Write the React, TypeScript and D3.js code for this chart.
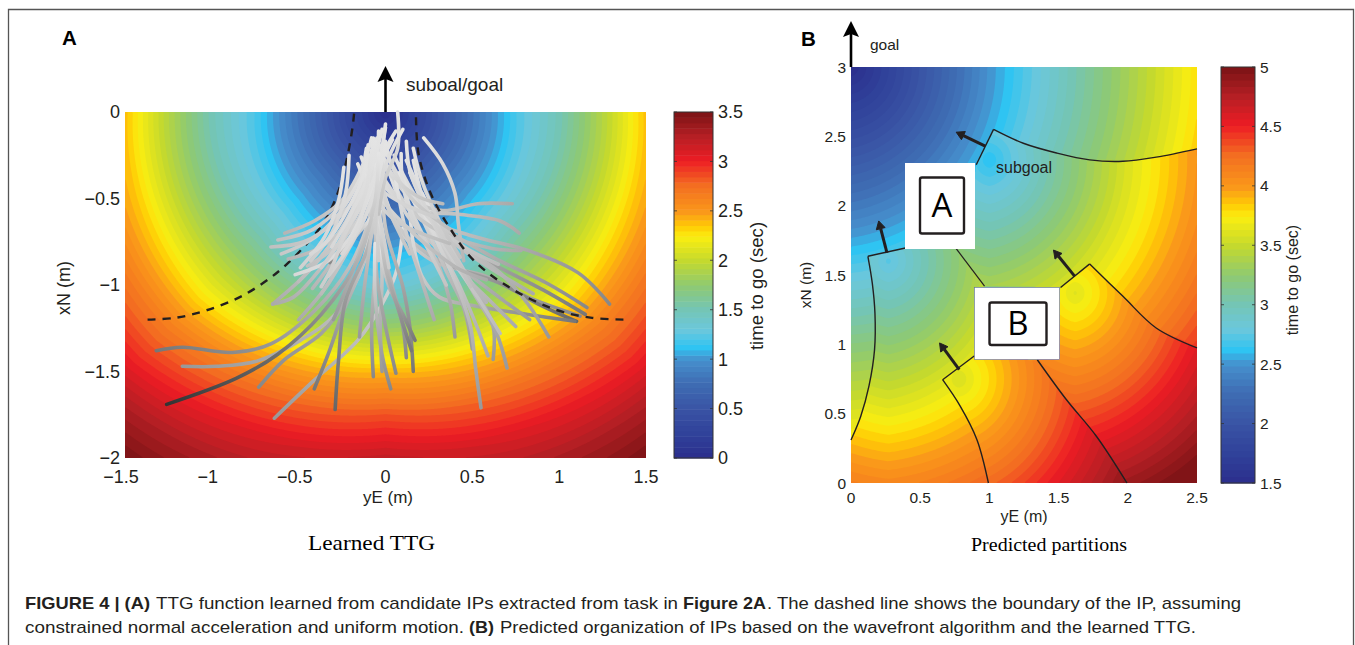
import React, { useMemo } from 'react'
import * as d3 from 'd3'

// Colormap (fraction of the range -> colour)
const colorStops = [0, 0.06, 0.14, 0.22, 0.285, 0.32, 0.37, 0.43, 0.5, 0.57, 0.64, 0.67, 0.71, 0.79, 0.86, 0.93, 1]
const colorValues = ['#2b2e8c', '#2f3f98', '#3953a4', '#3f6eb4', '#4690cd', '#2fc4f2', '#6bc7dc', '#74c5b5', '#8fca70', '#c4d92e', '#fbee10', '#ffcb05', '#fa9a1a', '#f36c21', '#ed1c24', '#b51f24', '#7a1315']
const bandCount = 64

// Panel A: learned TTG (sec), read along three directions from the goal
const ttgRadii = [0, 0.25, 0.5, 0.75, 1, 1.25, 1.5, 1.75, 2, 2.25, 2.5, 2.75]
const ttgDown = [0, 0.35, 0.68, 0.98, 1.3, 1.8, 2.4, 2.85, 3.2, 3.4, 3.5, 3.5]
const ttgDiag = [0, 0.4, 0.8, 1.15, 1.5, 1.88, 2.27, 2.65, 2.95, 3.25, 3.5, 3.6]
const ttgSide = [0, 0.41, 0.81, 1.2, 1.5, 1.92, 2.38, 2.7, 3.0, 3.3, 3.55, 3.6]

const axAXTicks = [-1.5, -1, -0.5, 0, 0.5, 1, 1.5]
const axAYTicks = [0, -0.5, -1, -1.5, -2]
const cbATicks = [0, 0.5, 1, 1.5, 2, 2.5, 3, 3.5]
const axBXTicks = [0, 0.5, 1, 1.5, 2, 2.5]
const axBYTicks = [0, 0.5, 1, 1.5, 2, 2.5, 3]
const cbBTicks = [1.5, 2, 2.5, 3, 3.5, 4, 4.5, 5]

// Dashed IP boundary (yE, xN)
const boundaryLeft: [number, number][] = [[-1.37, -1.2], [-1.21, -1.19], [-1.03, -1.146], [-0.82, -1.06], [-0.62, -0.925], [-0.47, -0.78], [-0.35, -0.63], [-0.27, -0.455], [-0.22, -0.26], [-0.19, -0.09], [-0.18, 0]]
const boundaryRight: [number, number][] = [[1.37, -1.2], [1.19, -1.19], [0.99, -1.146], [0.74, -1.03], [0.51, -0.86], [0.37, -0.67], [0.26, -0.47], [0.19, -0.24], [0.175, 0]]

// Candidate IP trajectories, far end first (yE, xN)
const trajectories: [number, number][][] = [
  [[-1.32, -1.38], [-1.17, -1.36], [-0.88, -1.39], [-0.66, -1.34], [-0.41, -1.15], [-0.21, -0.9], [-0.08, -0.57], [-0.02, -0.19]],
  [[-1.17, -1.47], [-0.97, -1.47], [-0.74, -1.44], [-0.49, -1.32], [-0.29, -1.17], [-0.12, -0.86], [-0.06, -0.47], [-0.05, -0.15]],
  [[-0.73, -1.59], [-0.58, -1.43], [-0.37, -1.28], [-0.23, -1.09], [-0.1, -0.78], [-0.05, -0.38], [-0.04, -0.11]],
  [[-0.64, -1.77], [-0.41, -1.55], [-0.16, -1.32], [-0.02, -1.11], [0.06, -0.93], [0.1, -0.67]],
  [[-0.41, -1.6], [-0.33, -1.4], [-0.25, -1.17], [-0.14, -0.9], [-0.06, -0.57]],
  [[-0.29, -1.72], [-0.27, -1.43], [-0.23, -1.09], [-0.1, -0.78], [-0.04, -0.47], [-0.02, -0.19]],
  [[-0.07, -1.53], [-0.08, -1.24], [-0.06, -0.93], [-0.03, -0.57]],
  [[-0.02, -1.5], [-0.03, -1.24], [-0.02, -0.95], [-0.04, -0.57]],
  [[0.06, -1.51], [0, -1.24], [-0.05, -0.95], [-0.06, -0.67], [-0.08, -0.28]],
  [[0.03, -1.6], [-0.02, -1.4], [-0.06, -1.05], [-0.06, -0.76]],
  [[0.12, -1.42], [0.1, -1.24], [0.04, -1.01], [-0.02, -0.76], [-0.06, -0.47]],
  [[0.16, -1.5], [0.14, -1.24], [0.1, -1.01], [0, -0.67], [-0.02, -0.32]],
  [[0.17, -1.32], [0.1, -1.17], [0.02, -1.01], [-0.04, -0.78]],
  [[0.15, -1.38], [0.07, -1.13], [0, -0.9], [-0.04, -0.57]],
  [[1.29, -1.11], [1.11, -0.93], [0.82, -0.8], [0.51, -0.72], [0.21, -0.61], [0, -0.42], [-0.08, -0.28]],
  [[1.16, -1.13], [0.93, -0.99], [0.62, -0.84], [0.31, -0.65], [0.12, -0.44], [-0.02, -0.19]],
  [[1.15, -1.17], [0.91, -1.03], [0.62, -0.88], [0.33, -0.72], [0.1, -0.51], [-0.02, -0.24]],
  [[1.12, -1.18], [0.82, -1.07], [0.58, -0.95], [0.27, -0.86], [0.06, -0.65], [-0.04, -0.34]],
  [[1.1, -1.21], [0.88, -1.11], [0.66, -0.99], [0.31, -0.86], [0.08, -0.67], [-0.04, -0.38]],
  [[1.09, -1.21], [0.82, -1.17], [0.51, -1.12], [0.31, -1.07], [0.21, -0.95], [0.16, -0.76], [0.14, -0.57]],
  [[0.83, -1.2], [0.68, -1.09], [0.47, -0.93], [0.29, -0.78], [0.12, -0.59], [0.02, -0.34]],
  [[0.75, -1.24], [0.6, -1.09], [0.41, -0.9], [0.25, -0.67], [0.1, -0.4]],
  [[0.94, -1.3], [0.82, -1.11], [0.66, -0.93], [0.45, -0.78], [0.29, -0.61], [0.12, -0.28]],
  [[0.4, -1.3], [0.37, -1.09], [0.31, -0.9], [0.21, -0.7], [0.12, -0.51]],
  [[0.5, -1.37], [0.45, -1.13], [0.35, -0.92], [0.25, -0.7], [0.14, -0.47]],
  [[0.59, -1.41], [0.51, -1.2], [0.41, -0.97], [0.31, -0.78], [0.16, -0.47]],
  [[0.62, -1.43], [0.62, -1.24], [0.53, -1.05], [0.41, -0.84], [0.25, -0.53]],
  [[0.7, -1.48], [0.64, -1.28], [0.51, -1.05], [0.37, -0.8], [0.21, -0.47]],
  [[0.66, -1.28], [0.53, -1.07], [0.39, -0.86], [0.25, -0.61], [0.16, -0.28]],
  [[0.55, -1.71], [0.52, -1.49], [0.49, -1.24], [0.43, -1.05], [0.33, -0.82], [0.21, -0.55]],
  [[0.73, -0.53], [0.53, -0.53], [0.33, -0.57], [0.16, -0.51], [0, -0.32], [-0.08, -0.17]],
  [[0.77, -0.7], [0.66, -0.63], [0.41, -0.59], [0.19, -0.57], [0, -0.44], [-0.1, -0.28]],
  [[0.78, -0.8], [0.62, -0.79], [0.31, -0.69], [0.12, -0.55], [-0.02, -0.36], [-0.06, -0.19]],
  [[-0.65, -1.11], [-0.53, -1.07], [-0.37, -0.9], [-0.21, -0.67], [-0.08, -0.42]],
  [[-0.65, -1.11], [-0.47, -0.95], [-0.29, -0.73], [-0.12, -0.47]],
  [[-0.5, -1.2], [-0.32, -0.98], [-0.18, -0.7], [-0.08, -0.35]],
  [[-0.3, -1.2], [-0.2, -0.95], [-0.1, -0.65], [-0.05, -0.3]],
  [[-0.15, -1.3], [-0.12, -1.0], [-0.08, -0.7], [-0.04, -0.35]],
  [[0.28, -1.2], [0.2, -0.95], [0.12, -0.7], [0.06, -0.4]],
  [[0.85, -1.05], [0.6, -0.9], [0.35, -0.72], [0.15, -0.45], [0.05, -0.25]],
  [[0.58, -1.1], [0.42, -0.88], [0.26, -0.62], [0.14, -0.35]],
  [[0.65, -0.88], [0.42, -0.76], [0.22, -0.58], [0.08, -0.35]],
  [[0.35, -1.0], [0.24, -0.78], [0.14, -0.55], [0.08, -0.3]],
  [[-0.62, -0.74], [-0.42, -0.68], [-0.24, -0.52], [-0.12, -0.3]],
  [[-0.6, -0.82], [-0.4, -0.72], [-0.22, -0.52], [-0.1, -0.25]],
  [[-0.5, -0.98], [-0.34, -0.8], [-0.2, -0.58], [-0.1, -0.3]],
  [[-0.42, -1.02], [-0.28, -0.82], [-0.16, -0.55], [-0.08, -0.22]],
  [[-0.58, -0.7], [-0.41, -0.63], [-0.25, -0.51], [-0.12, -0.28], [-0.08, -0.15]],
  [[-0.66, -0.78], [-0.47, -0.75], [-0.29, -0.63], [-0.14, -0.44], [-0.06, -0.17]],
  [[-0.56, -0.85], [-0.37, -0.78], [-0.21, -0.63], [-0.1, -0.38]],
  [[-0.45, -0.89], [-0.29, -0.78], [-0.14, -0.59], [-0.04, -0.28]],
  [[-0.37, -1.05], [-0.25, -0.86], [-0.12, -0.61], [-0.02, -0.28]],
  [[-0.32, -0.87], [-0.21, -0.76], [-0.08, -0.61]],
  [[0.45, -0.86], [0.42, -0.65], [0.4, -0.47], [0.33, -0.3], [0.22, -0.15]],
  [[0.49, -1.01], [0.33, -0.72], [0.21, -0.51], [0.14, -0.34], [0.12, -0.17]],
  [[0.43, -0.84], [0.31, -0.63], [0.21, -0.4], [0.16, -0.21]],
  [[0.25, -0.8], [0.16, -0.63], [0.1, -0.42], [0.09, -0.24]],
  [[0.39, -0.69], [0.16, -0.51], [0.04, -0.32], [0, -0.17]],
  [[0.37, -0.76], [0.06, -0.63], [-0.08, -0.47], [-0.16, -0.3]],
  [[0.58, -0.97], [0.41, -0.9], [0.16, -0.7], [-0.02, -0.51], [-0.13, -0.34]],
  [[0.33, -0.53], [0.19, -0.49], [0.04, -0.36], [-0.02, -0.24]],
  [[0.29, -0.61], [0.1, -0.53], [-0.06, -0.42], [-0.14, -0.26]],
  [[-0.04, -0.86], [-0.05, -0.67], [-0.08, -0.4], [-0.06, -0.17]],
  [[0.02, -0.9], [-0.02, -0.67], [-0.06, -0.47], [-0.04, -0.3], [0.06, -0.11]],
  [[0.14, -0.82], [0.08, -0.7], [0, -0.51], [-0.02, -0.28], [0, -0.07]],
  [[-0.04, -0.59], [0, -0.38], [0.07, -0.21], [0.07, 0]],
  [[-0.06, -0.7], [-0.04, -0.47], [0.02, -0.26], [0.1, -0.1]],
  [[-0.52, -0.94], [-0.33, -0.86], [-0.19, -0.7], [-0.06, -0.38], [0, -0.09]],
  [[-0.33, -0.95], [-0.21, -0.78], [-0.1, -0.57], [0, -0.19]],
  [[-0.49, -0.9], [-0.35, -0.72], [-0.27, -0.51], [-0.24, -0.32]],
  [[-0.43, -0.86], [-0.31, -0.7], [-0.23, -0.47], [-0.21, -0.25]],
  [[-0.37, -0.9], [-0.25, -0.72], [-0.16, -0.47], [-0.11, -0.21]],
  [[-0.43, -0.82], [-0.33, -0.74], [-0.21, -0.55], [-0.12, -0.34], [-0.1, -0.19]],
  [[-0.31, -0.78], [-0.21, -0.61], [-0.12, -0.42], [-0.06, -0.26], [-0.02, -0.1]],
  [[-0.25, -0.82], [-0.16, -0.67], [-0.1, -0.47], [-0.02, -0.28], [0.04, -0.16]],
  [[-0.37, -1.01], [-0.31, -0.9], [-0.23, -0.7], [-0.13, -0.51], [-0.09, -0.34], [-0.07, -0.15]],
  [[-1.26, -1.69], [-0.86, -1.54], [-0.62, -1.4], [-0.37, -1.17], [-0.16, -0.86], [-0.06, -0.51], [-0.04, -0.24]],
]
// Grey at the far end of each trajectory, same order as above
const trajectoryTipGrey = [
  '#777', '#999', '#888', '#999', '#777', '#666', '#888', '#999', '#888', '#888', '#888', '#777', '#777', '#777',
  '#888', '#888', '#777', '#888', '#666', '#777', '#999', '#aaa', '#999', '#999', '#999', '#aaa', '#999', '#999', '#bbb', '#999',
  '#aaa', '#aaa', '#aaa', '#aaa', '#aaa',
  '#aaa', '#999', '#999', '#aaa', '#aaa', '#b5b5b5', '#bbb', '#c4c4c4', '#c0c0c0', '#c8c8c8', '#bbb', '#b5b5b5',
  '#b5b5b5', '#c0c0c0', '#b5b5b5', '#c0c0c0', '#bbb', '#888', '#b5b5b5', '#c0c0c0', '#c0c0c0', '#ccc',
  '#bbb', '#bbb', '#aaa', '#bbb', '#ccc', '#ccc', '#ccc', '#c4c4c4', '#c0c0c0', '#ccc', '#d8d8d8', '#d0d0d0', '#d0d0d0', '#ccc', '#ccc', '#d8d8d8', '#d8d8d8', '#d8d8d8', '#ccc', '#333',
]
const trajectoryNearGrey = '#e4e4e4'

// Panel B: partition boundaries (yE, xN); each first leg is a straight run to a corner
const edgeTop: [number, number][] = [[0.905, 2.295], [1.03, 2.55], [1.245, 2.45], [1.485, 2.38], [1.725, 2.33], [1.965, 2.32], [2.205, 2.35], [2.5, 2.41]]
const edgeLeft: [number, number][] = [[0.393, 1.695], [0.122, 1.635], [0.154, 1.44], [0.173, 1.226], [0.17, 0.96], [0.13, 0.7], [0.07, 0.48], [0, 0.31]]
const edgeDiag: [number, number][] = [[0.76, 1.69], [0.965, 1.42]]
const edgeRight: [number, number][] = [[1.514, 1.41], [1.725, 1.58], [1.965, 1.346], [2.205, 1.118], [2.5, 0.974]]
const edgeMid: [number, number][] = [[0.893, 0.918], [0.662, 0.745], [0.79, 0.553], [0.91, 0.3125], [0.993, 0]]
const edgeLow: [number, number][] = [[1.346, 0.889], [1.557, 0.6], [1.773, 0.337], [1.994, 0]]

// Subgoal of each partition: position and time to go there
const goal = { x: 0, y: 3, t: 1.5 }
const subgoalTop = { x: 1.0, y: 2.33, t: 2.6 }
const subgoalLeft = { x: 0.27, y: 1.6, t: 2.74 }
const subgoalMid = { x: 0.78, y: 0.75, t: 3.58 }
const subgoalRight = { x: 1.62, y: 1.37, t: 3.62 }
// Time added against distance from a subgoal, sideways and straight down
const waveDist = [0, 0.5, 1, 1.5, 2, 2.5, 3]
const waveSide = [0, 0.5, 1, 1.42, 1.85, 2.28, 2.7]
const waveDown = [0, 0.42, 0.84, 1.27, 1.7, 2.1, 2.5]

// Small arrows off the subgoals, [tail, tip] (yE, xN)
const subgoalArrows: [number, number][][] = [
  [[0.97, 2.43], [0.76, 2.53]],
  [[0.26, 1.66], [0.2, 1.89]],
  [[1.617, 1.49], [1.463, 1.68]],
  [[0.782, 0.817], [0.64, 1.01]],
]

const ink = '#231f20'
const sans = '"Liberation Sans", Arial, sans-serif'
const serif = '"Liberation Serif", serif'
const narrow = '"Liberation Sans Narrow", "Liberation Sans", sans-serif'

const plotA = { left: 125, right: 646, top: 112, bottom: 458 }
const plotB = { left: 851, right: 1197, top: 67, bottom: 483 }
const barA = { left: 674, right: 713, top: 112, bottom: 458 }
const barB = { left: 1221, right: 1255, top: 67, bottom: 483 }

const colorAt = d3.scaleLinear<string>().domain(colorStops).range(colorValues).clamp(true)
const fmt = (d: number) => String(d).replace('-', '\u2212')
const lookup = (xs: number[], ys: number[], x: number) => d3.scaleLinear().domain(xs).range(ys)(x)

function ttgA(x: number, y: number) {
  const r = Math.hypot(x, y)
  const angle = r === 0 ? 0 : Math.atan2(Math.abs(x), Math.abs(y)) / (Math.PI / 2)
  const down = lookup(ttgRadii, ttgDown, r)
  const diag = lookup(ttgRadii, ttgDiag, r)
  const side = lookup(ttgRadii, ttgSide, r)
  return angle < 0.5 ? down + (diag - down) * angle * 2 : diag + (side - diag) * (angle - 0.5) * 2
}

const polyRight = [...edgeRight, [2.5, 0], ...edgeLow.slice().reverse()] as [number, number][]
const polyMid = [...edgeMid, ...edgeLow.slice().reverse()] as [number, number][]
const polyLeft = [...edgeLeft, [0, 0], ...edgeMid.slice().reverse(), ...edgeDiag.slice().reverse()] as [number, number][]
const polyTop = [...edgeTop, ...edgeRight.slice().reverse(), ...edgeDiag.slice().reverse()] as [number, number][]

function ttgB(x: number, y: number) {
  const p: [number, number] = [x, y]
  let s = goal
  if (d3.polygonContains(polyRight, p)) s = subgoalRight
  else if (d3.polygonContains(polyMid, p)) s = subgoalMid
  else if (d3.polygonContains(polyLeft, p)) s = subgoalLeft
  else if (d3.polygonContains(polyTop, p)) s = subgoalTop
  const d = Math.hypot(x - s.x, y - s.y)
  const side = d === 0 ? 0 : Math.abs(x - s.x) / d
  const down = lookup(waveDist, waveDown, d)
  return s.t + down + (lookup(waveDist, waveSide, d) - down) * side
}

// Filled contour bands of a field over a plot rectangle
function Bands({ id, box, x, y, field, lo, hi }: any) {
  const w = box.right - box.left
  const h = box.bottom - box.top
  const n = Math.round(w / 1.5)
  const m = Math.round(h / 1.5)
  const bands = useMemo(() => {
    const values = new Float64Array(n * m)
    for (let j = 0; j < m; j++) {
      for (let i = 0; i < n; i++) {
        const px = box.left + ((i + 0.5) / n) * w
        const py = box.top + ((j + 0.5) / m) * h
        values[j * n + i] = field(x.invert(px), y.invert(py))
      }
    }
    const thresholds = d3.range(bandCount).map(k => lo + ((hi - lo) * k) / bandCount)
    const contours = d3.contours().size([n, m]).thresholds(thresholds)(values as any)
    const path = d3.geoPath()
    return contours.map((c, k) => ({ d: path(c) as string, fill: colorAt((k + 0.5) / bandCount) }))
  }, [])
  return (
    <g clipPath={`url(#${id})`}>
      <clipPath id={id}><rect x={box.left} y={box.top} width={w} height={h} /></clipPath>
      <rect x={box.left} y={box.top} width={w} height={h} fill={colorAt(0)} />
      <g transform={`translate(${box.left},${box.top}) scale(${w / n},${h / m})`}>
        {bands.map((b, i) => <path key={i} d={b.d} fill={b.fill} />)}
      </g>
    </g>
  )
}

function ColorBar({ box, ticks, lo, hi, size }: any) {
  const y = d3.scaleLinear().domain([lo, hi]).range([box.bottom, box.top])
  const w = box.right - box.left
  const t = (hi - lo) / bandCount
  return (
    <g>
      {d3.range(bandCount).map(k => (
        <rect key={k} x={box.left} width={w} y={y(lo + t * (k + 1))} height={y(lo) - y(lo + t) + 0.5} fill={colorAt((k + 0.5) / bandCount)} />
      ))}
      <rect x={box.left} y={box.top} width={w} height={box.bottom - box.top} fill="none" stroke="#333" strokeWidth={1} />
      {ticks.map((d: number) => (
        <g key={d}>
          <line x1={box.left} x2={box.left + 3} y1={y(d)} y2={y(d)} stroke="#333" strokeWidth={0.8} />
          <line x1={box.right - 3} x2={box.right} y1={y(d)} y2={y(d)} stroke="#333" strokeWidth={0.8} />
          <text x={box.right + 5} y={y(d)} dy="0.36em" fontSize={size} fontFamily={sans} fill={ink}>{d}</text>
        </g>
      ))}
    </g>
  )
}

function BigArrow({ x, y, text, tx, ty, size }: any) {
  return (
    <g>
      <line x1={x} x2={x} y1={y} y2={y - 34} stroke="#000" strokeWidth={2.6} />
      <path d={`M${x},${y - 46} L${x + 8},${y - 30} L${x},${y - 33} L${x - 8},${y - 30} Z`} fill="#000" />
      <text x={tx} y={ty} fontSize={size} fontFamily={sans} fill={ink}>{text}</text>
    </g>
  )
}

// One run of caption text squeezed to the width it has in the figure
function Cap({ x, end, y, bold, children }: any) {
  return (
    <text x={x} y={y} fontSize={17} fontFamily={narrow} fontWeight={bold ? 'bold' : 'normal'} fill={ink} textLength={end - x} lengthAdjust="spacingAndGlyphs">{children}</text>
  )
}

const App: React.FC = () => {
  const xA = d3.scaleLinear().domain([-1.5, 1.5]).range([plotA.left, plotA.right])
  const yA = d3.scaleLinear().domain([0, -2]).range([plotA.top, plotA.bottom])
  const xB = d3.scaleLinear().domain([0, 2.5]).range([plotB.left, plotB.right])
  const yB = d3.scaleLinear().domain([0, 3]).range([plotB.bottom, plotB.top])

  const lineA = d3.line<[number, number]>().x(d => xA(d[0])).y(d => yA(d[1])).curve(d3.curveCatmullRom.alpha(0.5))
  const straightB = d3.line<[number, number]>().x(d => xB(d[0])).y(d => yB(d[1]))
  const smoothB = d3.line<[number, number]>().x(d => xB(d[0])).y(d => yB(d[1])).curve(d3.curveCatmullRom.alpha(0.5))

  return (
    <svg width={1355} height={645} style={{ position: 'absolute', left: 0, top: 0, display: 'block', background: '#fff' }}>
      {/* figure frame */}
      <path d="M8.5,660 L8.5,9.5 L1353.5,9.5 L1353.5,660" fill="none" stroke="#555" strokeWidth={1.3} />

      <text x={62} y={45} fontSize={20.5} fontWeight="bold" fontFamily={sans} fill="#000">A</text>
      <text x={801} y={46} fontSize={20.5} fontWeight="bold" fontFamily={sans} fill="#000">B</text>

      {/* panel A */}
      <Bands id="clipA" box={plotA} x={xA} y={yA} field={ttgA} lo={0} hi={3.5} />
      <defs>
        {trajectories.map((t, i) => {
          const a = t[0]
          const b = t[t.length - 1]
          return (
            <linearGradient key={i} id={`tr${i}`} gradientUnits="userSpaceOnUse" x1={xA(a[0])} y1={yA(a[1])} x2={xA(b[0])} y2={yA(b[1])}>
              <stop offset="0" stopColor={trajectoryTipGrey[i]} />
              <stop offset="1" stopColor={trajectoryNearGrey} />
            </linearGradient>
          )
        })}
      </defs>
      <path d={lineA(boundaryLeft) as string} fill="none" stroke={ink} strokeWidth={2.4} strokeDasharray="8 7" />
      {trajectories.map((t, i) => (
        <path key={i} d={lineA(t) as string} fill="none" stroke={`url(#tr${i})`} strokeWidth={3.6} strokeLinecap="round" />
      ))}
      <path d={lineA(boundaryRight) as string} fill="none" stroke={ink} strokeWidth={2.4} strokeDasharray="8 7" />
      {axAXTicks.map(d => (
        <text key={d} x={xA(d) - (d < 0 ? 4 : 0)} y={483} textAnchor="middle" fontSize={18} fontFamily={sans} fill={ink}>{fmt(d)}</text>
      ))}
      {axAYTicks.map(d => (
        <text key={d} x={120} y={yA(d)} dy="0.36em" textAnchor="end" fontSize={18} fontFamily={sans} fill={ink}>{fmt(d)}</text>
      ))}
      <text x={388} y={503} textAnchor="middle" fontSize={17} fontFamily={sans} fill={ink}>yE (m)</text>
      <text transform="translate(70,288) rotate(-90)" textAnchor="middle" fontSize={18} fontFamily={sans} fill={ink}>xN (m)</text>
      <BigArrow x={xA(0)} y={plotA.top} text="suboal/goal" tx={406} ty={91} size={19} />
      <ColorBar box={barA} ticks={cbATicks} lo={0} hi={3.5} size={18} />
      <text transform="translate(763,286) rotate(-90)" textAnchor="middle" fontSize={18.6} fontFamily={sans} fill={ink}>time to go (sec)</text>
      <text x={308} y={550} fontSize={22} fontFamily={serif} fill="#000" textLength={127} lengthAdjust="spacingAndGlyphs">Learned TTG</text>

      {/* panel B */}
      <Bands id="clipB" box={plotB} x={xB} y={yB} field={ttgB} lo={1.5} hi={5} />
      {[edgeTop, edgeLeft, edgeRight, edgeMid].map((e, i) => (
        <g key={i}>
          <path d={straightB(e.slice(0, 2)) as string} fill="none" stroke={ink} strokeWidth={1.4} />
          <path d={smoothB(e.slice(1)) as string} fill="none" stroke={ink} strokeWidth={1.4} />
        </g>
      ))}
      <path d={straightB(edgeDiag) as string} fill="none" stroke={ink} strokeWidth={1.2} />
      <path d={smoothB(edgeLow) as string} fill="none" stroke={ink} strokeWidth={1.4} />
      {subgoalArrows.map((a, i) => {
        const [p, q] = a
        const x1 = xB(p[0]), y1 = yB(p[1]), x2 = xB(q[0]), y2 = yB(q[1])
        const len = Math.hypot(x2 - x1, y2 - y1)
        const ux = (x2 - x1) / len, uy = (y2 - y1) / len
        const bx = x2 - ux * 8, by = y2 - uy * 8
        return (
          <g key={i}>
            <line x1={x1} y1={y1} x2={bx} y2={by} stroke={ink} strokeWidth={3} />
            <path d={`M${x2},${y2} L${bx - uy * 4.5},${by + ux * 4.5} L${bx + uy * 4.5},${by - ux * 4.5} Z`} fill={ink} strokeLinejoin="round" stroke={ink} strokeWidth={1} />
          </g>
        )
      })}
      <text x={996} y={173} fontSize={16} fontFamily={sans} fill={ink}>subgoal</text>
      {/* white labels over the map */}
      <rect x={905} y={163} width={70} height={86} fill="#fff" />
      <rect x={920} y={177.5} width={44} height={56} rx={2} fill="none" stroke={ink} strokeWidth={2.4} />
      <text x={942} y={217} textAnchor="middle" fontSize={33} fontFamily='"Open Sans", sans-serif' fill="#000">A</text>
      <rect x={974.5} y={287.5} width={85} height={72} fill="#fff" stroke="#5c6bb0" strokeWidth={0.6} />
      <rect x={989.5} y={302.5} width={57} height={42.5} rx={2} fill="none" stroke={ink} strokeWidth={2.4} />
      <text x={1018} y={335} textAnchor="middle" fontSize={33} fontFamily='"Open Sans", sans-serif' fill="#000">B</text>
      {axBXTicks.map(d => (
        <text key={d} x={xB(d)} y={503} textAnchor="middle" fontSize={15.5} fontFamily={sans} fill={ink}>{d}</text>
      ))}
      {axBYTicks.map(d => (
        <text key={d} x={846} y={yB(d)} dy="0.36em" textAnchor="end" fontSize={15.5} fontFamily={sans} fill={ink}>{d}</text>
      ))}
      <text x={1024} y={522} textAnchor="middle" fontSize={16} fontFamily={sans} fill={ink}>yE (m)</text>
      <text transform="translate(811,285) rotate(-90)" textAnchor="middle" fontSize={15.5} fontFamily={sans} fill={ink}>xN (m)</text>
      <BigArrow x={xB(0)} y={plotB.top} text="goal" tx={870} ty={50} size={15.5} />
      <ColorBar box={barB} ticks={cbBTicks} lo={1.5} hi={5} size={15.5} />
      <text transform="translate(1298,280) rotate(-90)" textAnchor="middle" fontSize={16} fontFamily={sans} fill={ink}>time to go (sec)</text>
      <text x={971} y={551} fontSize={19} fontFamily={serif} fill="#000" textLength={156} lengthAdjust="spacingAndGlyphs">Predicted partitions</text>

      {/* caption */}
      <Cap x={25} end={150} y={609} bold>FIGURE 4 | (A)</Cap>
      <Cap x={156} end={678} y={609}>TTG function learned from candidate IPs extracted from task in</Cap>
      <Cap x={683} end={766} y={609} bold>Figure 2A</Cap>
      <Cap x={767} end={1241} y={609}>. The dashed line shows the boundary of the IP, assuming</Cap>
      <Cap x={25} end={464} y={633}>constrained normal acceleration and uniform motion.</Cap>
      <Cap x={469} end={494} y={633} bold>(B)</Cap>
      <Cap x={500} end={1196} y={633}>Predicted organization of IPs based on the wavefront algorithm and the learned TTG.</Cap>
    </svg>
  )
}

export default App
